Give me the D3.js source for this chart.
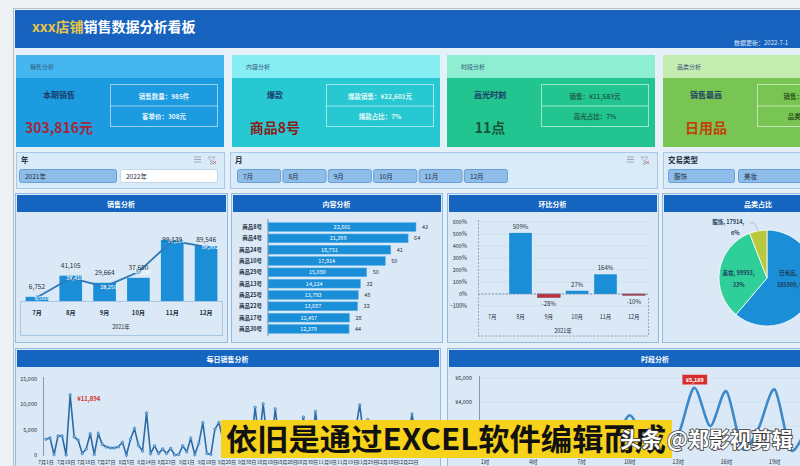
<!DOCTYPE html>
<html><head><meta charset="utf-8">
<script src="https://cdn.jsdelivr.net/npm/d3@7"></script>
<style>body{margin:0;background:#e8f1f9;} svg{display:block;font-family:"Noto Sans CJK SC","Noto Sans",sans-serif;}</style>
</head><body>
<svg id="c" width="800" height="466"></svg>
<script>
// ---------------- DATA ----------------
const kpiTitles = ["销售分析","内容分析","时段分析","品类分析"];
const kpiHeads  = ["本期销售","爆款","高光时刻","销售最高"];
const kpiValues = ["303,816元","商品8号","11点","日用品"];
const kpiLine1  = ["销售数量：985件","爆款销售：¥22,601元","销售：¥21,583元","销售：¥185,909元"];
const kpiLine2  = ["客单价：308元","爆款占比：7%","高光占比：7%","品类占比：61%"];

const years = ["2021年","2022年"];
const months = ["7月","8月","9月","10月","11月","12月"];
const tradeTypes = ["服饰","美妆"];

const monthSales = [6752,41105,29664,37650,99139,89546];
const monthLine  = [5560,37410,23250,47150,97864,87992];

const products = ["商品8号","商品4号","商品24号","商品10号","商品29号","商品13号","商品25号","商品22号","商品17号","商品30号"];
const productSales = [22601,21399,18751,17914,15080,14124,13793,13687,12457,12379];
const productQty = [43,64,41,50,50,32,48,32,28,44];

const momRate = [null,5.09,-0.28,0.27,1.64,-0.10];
const momLabels = ["","509%","-28%","27%","164%","-10%"];

const categories = ["日用品","美妆","服饰"];
const categorySales = [185909,99993,17914];
const categoryPct = ["61%","33%","6%"];

const dailyMonths = ["7月","8月","9月","10月","11月","12月"];
const dailyDaysByMonth = [
  [1,3,4,6,8,10,11,13,15,17,18,20,22,24,26,27,29,31],
  [2,4,5,7,9,11,12,14,16,18,20,21,23,25,26,28,30],
  [1,3,5,6,8,10,12,14,16,18,20,22,24,26,28,30],
  [2,4,6,8,10,12,14,16,18,20,22,24,26,28,30],
  [1,3,5,7,9,11,13,15,17,19,21,23,25,27,29],
  [1,3,6,8,10,13,15,17,20,22,24,27,29]
];
const dailySales = [3120,3380,100,3770,3770,0,11894,3575,2900,300,1200,4200,100,4200,2100,1600,1400,1400,1600,2500,0,3100,5200,1900,800,8300,300,1800,300,1200,300,1300,0,100,1800,650,3250,100,2300,6400,300,100,5100,6400,
  3000,500,2500,4000,1500,300,4500,2000,9400,2500,10100,3000,1200,9100,2800,600,3500,1500,400,2800,7500,2000,500,8600,2500,1000,3500,600,2200,4000,1000,300,2800,5000,9900,3500,7000,1500,400,3000,1200,4500,800,2000,3500,500,3000,8100,3000,6200];
const dailyTicks = [0,5000,10000,15000];

const hours = ["1时","2时","3时","4时","5时","6时","7时","8时","9时","10时","11时","12时","13时","14时","15时","16时","17时","18时","19时","20时","21时","22时","23时"];
const hourSales = [300,0,0,100,0,200,500,900,700,2900,600,150,1200,5189,2000,4900,100,1800,5050,0,1500,800,200];
const hourTicks = [0,2000,4000,6000];

const caption = "依旧是通过EXCEL软件编辑而成";
const watermark = "头条 @郑影视剪辑";

// ---------------- DRAW ----------------
const svg = d3.select("#c");
const W = 800, H = 466;
const navy = "#1b3a66";

svg.append("rect").attr("width",W).attr("height",H).attr("fill","#e6f0f8");
svg.append("rect").attr("width",W).attr("height",10).attr("fill","#eef1f4");
svg.append("rect").attr("width",14).attr("height",H).attr("fill","#eef1f4");
svg.append("line").attr("x1",13.5).attr("x2",13.5).attr("y1",8).attr("y2",H).attr("stroke","#b5c0cb");
svg.append("line").attr("x1",13).attr("x2",W).attr("y1",8.5).attr("y2",8.5).attr("stroke","#b5c0cb");

// header
svg.append("rect").attr("x",15).attr("y",10).attr("width",785).attr("height",38).attr("fill","#1762be");
const tt = svg.append("text").attr("x",32).attr("y",32).attr("font-size",14).attr("font-weight","bold");
tt.append("tspan").attr("fill","#e8c547").text("xxx店铺");
tt.append("tspan").attr("fill","#ffffff").text("销售数据分析看板");
svg.append("text").attr("x",734).attr("y",45).attr("font-size",6).attr("fill","#dce9f8").text("数据更新：2022-7-1");

// KPI cards
const cardX = [16,232,447,663];
const topCol = ["#45b6ef","#86edf3","#8deed1","#c5ecb1"];
const bodyCol = ["#1c9be0","#27c8d1","#22c58f","#78c553"];
const valCol = ["#a3283a","#8c1d1d","#17553a","#c2410c"];
const boxTxt = ["#e8f4ff","#e4f9fb","#1d5f4b","#2c5a1c"];
cardX.forEach((x,i)=>{
  svg.append("rect").attr("x",x).attr("y",55).attr("width",208).attr("height",23).attr("fill",topCol[i]);
  svg.append("rect").attr("x",x).attr("y",78).attr("width",208).attr("height",69).attr("fill",bodyCol[i]);
  svg.append("text").attr("x",x+14).attr("y",69).attr("font-size",6).attr("fill","#35557a").text(kpiTitles[i]);
  svg.append("text").attr("x",x+43).attr("y",98).attr("text-anchor","middle").attr("font-size",8).attr("font-weight","bold").attr("fill",navy).text(kpiHeads[i]);
  svg.append("text").attr("x",x+43).attr("y",133).attr("text-anchor","middle").attr("font-size",14).attr("font-weight","bold").attr("fill",valCol[i]).text(kpiValues[i]);
  svg.append("rect").attr("x",x+94.5).attr("y",84.5).attr("width",107).attr("height",42).attr("fill","none").attr("stroke","rgba(255,255,255,0.55)");
  svg.append("line").attr("x1",x+94.5).attr("x2",x+201.5).attr("y1",106).attr("y2",106).attr("stroke","rgba(255,255,255,0.55)");
  svg.append("text").attr("x",x+148).attr("y",98.5).attr("text-anchor","middle").attr("font-size",6.5).attr("font-weight","bold").attr("fill",boxTxt[i]).text(kpiLine1[i]);
  svg.append("text").attr("x",x+148).attr("y",119).attr("text-anchor","middle").attr("font-size",6.5).attr("font-weight","bold").attr("fill",boxTxt[i]).text(kpiLine2[i]);
});

// Filters
function filterPanel(x,w,label,items,bx,bw,selected,icons){
  svg.append("rect").attr("x",x+0.5).attr("y",152.5).attr("width",w).attr("height",36).attr("fill","#d9eaf8").attr("stroke","#a8c8e6");
  svg.append("text").attr("x",x+5).attr("y",163).attr("font-size",7.5).attr("font-weight","bold").attr("fill","#1f2d3d").text(label);
  if(icons){
    const ix = x+w-30;
    [0,2.5,5].forEach(d=>svg.append("line").attr("x1",ix).attr("x2",ix+7).attr("y1",157+d).attr("y2",157+d).attr("stroke","#9aa8b6"));
    svg.append("path").attr("d",`M${ix+14},157 h7 l-2.8,3.5 v3.5 l-1.4,0.8 v-4.3 z`).attr("fill","none").attr("stroke","#9aa8b6").attr("stroke-width",0.8);
    svg.append("path").attr("d",`M${ix+19},161 l3,3 M${ix+22},161 l-3,3`).attr("stroke","#d05050").attr("stroke-width",0.8);
  }
  items.forEach((t,i)=>{
    const sel = selected(i);
    svg.append("rect").attr("x",bx[i]+0.5).attr("y",169.5).attr("width",bw).attr("height",13).attr("rx",2)
      .attr("fill",sel?"#8ebde9":"#ffffff").attr("stroke",sel?"#6a9fd6":"#c5d6e6");
    svg.append("text").attr("x",bx[i]+6).attr("y",178.5).attr("font-size",6.5).attr("fill","#1f2d3d").text(t);
  });
}
filterPanel(16,208,"年",years,[19,120],97,i=>i===0,true);
const mScale = d3.scaleBand().domain(months).range([237,507]).paddingInner(0.05);
filterPanel(230,427,"月",months,months.map(m=>mScale(m)),mScale.bandwidth(),()=>true,true);
filterPanel(663,150,"交易类型",tradeTypes,[668,738],66,()=>true,false);

// Panels
function panel(x,y,w,h,title){
  svg.append("rect").attr("x",x+0.5).attr("y",y+0.5).attr("width",w).attr("height",h).attr("fill","#dbe9f6").attr("stroke","#93badf");
  svg.append("rect").attr("x",x+2).attr("y",y+2).attr("width",w-3).attr("height",17).attr("fill","#1565c0");
  svg.append("text").attr("x",x+w/2).attr("y",y+13.5).attr("text-anchor","middle").attr("font-size",7).attr("font-weight","bold").attr("fill","#ffffff").text(title);
}
panel(15,193,212,149,"销售分析");
panel(231,193,211,149,"内容分析");
panel(447,193,211,149,"环比分析");
panel(662,193,192,149,"品类占比");
panel(15,348,425,130,"每日销售分析");
panel(447,348,416,130,"时段分析");

// ---- 销售分析 ----
{
  const x = d3.scaleBand().domain(months).range([20,223]).paddingInner(0.33).paddingOuter(0.165);
  const y = d3.scaleLinear().domain([0,110000]).range([301,233.3]);
  const g = svg.append("g");
  g.append("rect").attr("x",20.5).attr("y",301.5).attr("width",202).attr("height",34).attr("fill","none").attr("stroke","#a9c6e2");
  g.selectAll(".b").data(monthSales).join("rect").attr("x",(d,i)=>x(months[i])).attr("y",d=>y(d))
    .attr("width",x.bandwidth()).attr("height",d=>301-y(d)).attr("fill","#1a8fd8");
  const line = d3.line().x((d,i)=>x(months[i])+x.bandwidth()/2).y(d=>y(d));
  g.append("path").attr("d",line(monthLine)).attr("fill","none").attr("stroke","#2f79b8").attr("stroke-width",1.8);
  g.selectAll(".p").data(monthLine).join("circle").attr("cx",(d,i)=>x(months[i])+x.bandwidth()/2).attr("cy",d=>y(d)).attr("r",1.8)
    .attr("fill","#7fc0ee").attr("stroke","#2f79b8").attr("stroke-width",0.6);
  g.selectAll(".ll").data(monthLine).join("text").attr("x",(d,i)=>x(months[i])+x.bandwidth()/2+4).attr("y",d=>y(d)+2.5)
    .attr("text-anchor","middle").attr("font-size",5.5).attr("fill","#ffffff").text(d=>d3.format(",")(d));
  g.selectAll(".bl").data(monthSales).join("text").attr("x",(d,i)=>x(months[i])+x.bandwidth()/2).attr("y",d=>Math.max(y(d)-8,242))
    .attr("text-anchor","middle").attr("font-size",6.5).attr("fill","#1e2e3e").text(d=>d3.format(",")(d));
  g.selectAll(".xl").data(months).join("text").attr("x",d=>x(d)+x.bandwidth()/2).attr("y",315).attr("text-anchor","middle")
    .attr("font-size",6).attr("font-weight","bold").attr("fill","#1e2e3e").text(d=>d);
  g.append("text").attr("x",121).attr("y",329).attr("text-anchor","middle").attr("font-size",5.5).attr("fill","#1e2e3e").text("2021年");
}

// ---- 内容分析 ----
{
  const x = d3.scaleLinear().domain([0,25000]).range([268,431.7]);
  const y = d3.scaleBand().domain(products).range([221.5,334.5]).paddingInner(0.22).paddingOuter(0.1);
  const g = svg.append("g");
  g.selectAll("rect.b").data(productSales).join("rect").attr("x",x(0)).attr("y",(d,i)=>y(products[i]))
    .attr("width",d=>x(d)-x(0)).attr("height",y.bandwidth()).attr("fill","#1a8fd8").attr("stroke","#5fb4ea").attr("stroke-width",0.5);
  g.append("line").attr("x1",268).attr("x2",268).attr("y1",219).attr("y2",336).attr("stroke","#6d8fb3");
  g.selectAll(".cl").data(products).join("text").attr("x",262).attr("y",d=>y(d)+y.bandwidth()/2+2).attr("text-anchor","end")
    .attr("font-size",5.5).attr("font-weight","bold").attr("fill","#1e2e3e").text(d=>d);
  g.selectAll(".vl").data(productSales).join("text").attr("x",d=>(x(0)+x(d))/2).attr("y",(d,i)=>y(products[i])+y.bandwidth()/2+2)
    .attr("text-anchor","middle").attr("font-size",5.5).attr("fill","#ffffff").text(d=>d3.format(",")(d));
  g.selectAll(".ql").data(productQty).join("text").attr("x",(d,i)=>x(productSales[i])+6).attr("y",(d,i)=>y(products[i])+y.bandwidth()/2+2)
    .attr("font-size",5.5).attr("fill","#1e2e3e").text(d=>d);
}

// ---- 环比分析 ----
{
  const x = d3.scaleBand().domain(months).range([478,648]).paddingInner(0.2).paddingOuter(0.1);
  const y = d3.scaleLinear().domain([-1,6]).range([306,222]);
  const g = svg.append("g");
  d3.range(-1,7).forEach(t=>{
    g.append("line").attr("x1",478).attr("x2",648).attr("y1",y(t)).attr("y2",y(t)).attr("stroke","#c9dcee").attr("stroke-width",0.6);
    g.append("text").attr("x",467).attr("y",y(t)+2).attr("text-anchor","end").attr("font-size",5.5).attr("fill","#1e2e3e").text(d3.format(".0%")(t));
  });
  g.append("line").attr("x1",478.5).attr("x2",478.5).attr("y1",220).attr("y2",336).attr("stroke","#8aa6c2").attr("stroke-dasharray","2,1.5");
  g.append("line").attr("x1",648.5).attr("x2",648.5).attr("y1",298).attr("y2",336).attr("stroke","#8aa6c2").attr("stroke-dasharray","2,1.5");
  g.append("line").attr("x1",478).attr("x2",648).attr("y1",336).attr("y2",336).attr("stroke","#8aa6c2").attr("stroke-dasharray","2,1.5");
  momRate.forEach((v,i)=>{
    if(v===null) return;
    const x0 = x(months[i]);
    g.append("rect").attr("x",x0).attr("y",Math.min(y(v),y(0))).attr("width",x.bandwidth()).attr("height",Math.abs(y(v)-y(0)))
      .attr("fill",v<0?"#c1303c":"#1a8fd8").attr("stroke",v<0?"#7a1c25":"none").attr("stroke-width",0.5);
    g.append("text").attr("x",x0+x.bandwidth()/2).attr("y",v<0?y(v)+9:y(v)-4).attr("text-anchor","middle")
      .attr("font-size",6).attr("fill","#1e2e3e").text(momLabels[i]);
  });
  g.append("line").attr("x1",478).attr("x2",648).attr("y1",y(0)).attr("y2",y(0)).attr("stroke","#7b8fb0").attr("stroke-dasharray","2,1.5");
  g.selectAll(".xl").data(months).join("text").attr("x",d=>x(d)+x.bandwidth()/2).attr("y",319).attr("text-anchor","middle")
    .attr("font-size",5.5).attr("fill","#1e2e3e").text(d=>d);
  g.append("text").attr("x",563).attr("y",333).attr("text-anchor","middle").attr("font-size",5.5).attr("fill","#1e2e3e").text("2021年");
}

// ---- 品类占比 ----
{
  const cx = 767, cy = 278, r = 48;
  const cols = ["#1a8fd8","#2fcf9a","#b9c93d"];
  const arcs = d3.pie().sort(null)(categorySales);
  const arc = d3.arc().innerRadius(0).outerRadius(r);
  const g = svg.append("g").attr("transform",`translate(${cx},${cy})`);
  g.selectAll("path").data(arcs).join("path").attr("d",arc).attr("fill",(d,i)=>cols[i]).attr("stroke","#ffffff").attr("stroke-width",0.8);
  const la = d3.arc().innerRadius(r*0.6).outerRadius(r*0.6);
  // 日用品 label (wrapped after name)
  {
    const c = la.centroid(arcs[0]);
    const t = g.append("text").attr("y",-3).attr("text-anchor","middle").attr("font-size",5.5).attr("font-weight","bold").attr("fill","#1c3d5a");
    t.append("tspan").attr("x",c[0]-6).attr("dy",0).text(`${categories[0]},`);
    t.append("tspan").attr("x",c[0]).attr("dy",12).text(`${categorySales[0]}, ${categoryPct[0]}`);
  }
  // 美妆 label
  {
    const c = la.centroid(arcs[1]);
    const t = g.append("text").attr("y",-3).attr("text-anchor","middle").attr("font-size",5.5).attr("font-weight","bold").attr("fill","#1c3d5a");
    t.append("tspan").attr("x",c[0]).attr("dy",0).text(`${categories[1]}, ${categorySales[1]},`);
    t.append("tspan").attr("x",c[0]).attr("dy",12).text(categoryPct[1]);
  }
  const oa = d3.arc().innerRadius(r).outerRadius(r);
  const e = oa.centroid(arcs[2]);
  g.append("path").attr("d",`M${e[0]},${e[1]} L${e[0]-4},${e[1]-8} L${e[0]-9},${e[1]-8}`).attr("fill","none").attr("stroke","#7f9bb5").attr("stroke-width",0.5);
  g.append("text").attr("x",e[0]-30).attr("y",e[1]-7).attr("text-anchor","middle").attr("font-size",5.5).attr("font-weight","bold").attr("fill","#1c3d5a").text(`${categories[2]}, ${categorySales[2]},`);
  g.append("text").attr("x",e[0]-23).attr("y",e[1]+4).attr("text-anchor","middle").attr("font-size",5.5).attr("font-weight","bold").attr("fill","#1c3d5a").text(categoryPct[2]);
}

// ---- 每日销售分析 ----
{
  const dates = [];
  dailyDaysByMonth.forEach((days,mi)=>days.forEach(d=>dates.push(dailyMonths[mi]+d+"日")));
  const x = d3.scalePoint().domain(dates).range([46,420]);
  const y = d3.scaleLinear().domain([0,15000]).range([455,379]);
  const g = svg.append("g");
  g.append("line").attr("x1",43.5).attr("x2",43.5).attr("y1",377).attr("y2",456).attr("stroke","#7f9bb5");
  dailyTicks.forEach(t=>{
    g.append("text").attr("x",37).attr("y",y(t)+2).attr("text-anchor","end").attr("font-size",5.5).attr("fill","#1e2e3e").text(d3.format(",")(t));
  });
  const line = d3.line().x((d,i)=>x(dates[i])).y(d=>y(d));
  g.append("path").attr("d",line(dailySales)).attr("fill","none").attr("stroke","#2c6aa6").attr("stroke-width",1.6);
  g.selectAll("circle").data(dailySales).join("circle").attr("cx",(d,i)=>x(dates[i])).attr("cy",d=>y(d)).attr("r",1.3)
    .attr("fill","#7cb8ea").attr("stroke","#2c6aa6").attr("stroke-width",0.5);
  const mi = d3.maxIndex(dailySales);
  g.append("text").attr("x",x(dates[mi])+7).attr("y",y(dailySales[mi])+6).attr("font-size",6).attr("font-weight","bold").attr("fill","#d0312d").text("¥"+d3.format(",")(dailySales[mi]));
  dates.forEach((d,i)=>{ if(i%5===0) g.append("text").attr("x",x(d)).attr("y",464).attr("text-anchor","middle").attr("font-size",5).attr("fill","#1e2e3e").text(d); });
}

// ---- 时段分析 ----
{
  const x = d3.scalePoint().domain(hours).range([485,839]);
  const y = d3.scaleLinear().domain([0,6000]).range([450,378]);
  const g = svg.append("g");
  hourTicks.forEach(t=>{
    if(t>0) g.append("line").attr("x1",479).attr("x2",860).attr("y1",y(t)).attr("y2",y(t)).attr("stroke","#c9dcee").attr("stroke-width",0.6);
    g.append("text").attr("x",472).attr("y",y(t)+2).attr("text-anchor","end").attr("font-size",5.5).attr("fill","#1e2e3e").text("¥"+d3.format(",")(t));
  });
  g.append("line").attr("x1",479.5).attr("x2",479.5).attr("y1",376).attr("y2",451).attr("stroke","#7f9bb5");
  const line = d3.line().x((d,i)=>x(hours[i])).y(d=>y(d)).curve(d3.curveCardinal.tension(0.2));
  g.append("path").attr("d",line(hourSales)).attr("fill","none").attr("stroke","#3c88c9").attr("stroke-width",2.6);
  const mi = d3.maxIndex(hourSales);
  const mx = x(hours[mi]), my = y(hourSales[mi]);
  g.append("rect").attr("x",mx-12).attr("y",my-13).attr("width",25).attr("height",10).attr("fill","#d32f2f").attr("stroke","#f3b3b3").attr("stroke-width",0.5);
  g.append("text").attr("x",mx+0.5).attr("y",my-6).attr("text-anchor","middle").attr("font-size",5.5).attr("font-weight","bold").attr("fill","#ffffff").text("¥"+d3.format(",")(hourSales[mi]));
  hours.forEach((h,i)=>{ if(i%3===0) g.append("text").attr("x",x(h)).attr("y",464).attr("text-anchor","middle").attr("font-size",5.5).attr("fill","#1e2e3e").text(h); });
}

// ---- caption overlay ----
svg.append("rect").attr("x",221).attr("y",420).attr("width",451).attr("height",38).attr("fill","#f6d21a");
svg.append("text").attr("x",226).attr("y",450).attr("font-size",30).attr("font-weight","bold").attr("fill","#111111")
  .attr("textLength",440).attr("lengthAdjust","spacingAndGlyphs").text(caption);
svg.append("text").attr("x",620).attr("y",447).attr("font-size",21).attr("font-weight","bold").attr("fill","#ffffff")
  .attr("stroke","#3a3a3a").attr("stroke-width",1.6).attr("paint-order","stroke").text(watermark);
</script>
</body></html>
